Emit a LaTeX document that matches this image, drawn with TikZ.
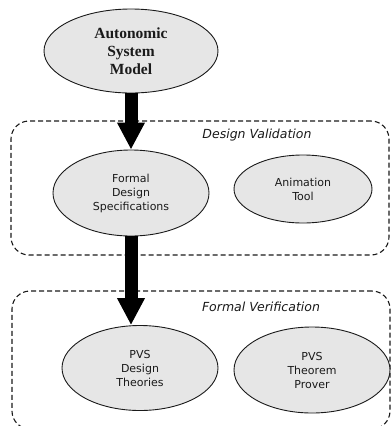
\documentclass[tikz,border=0pt]{standalone}
\usepackage{fontspec}
\setmainfont{Liberation Serif}
\newfontfamily\vsans{DejaVu Sans}
\usetikzlibrary{shapes.geometric,arrows.meta}
\definecolor{ellfill}{HTML}{E6E6E6}
\definecolor{inkc}{HTML}{1A1A1A}
\tikzset{
  ell/.style={ellipse, draw=inkc, line width=0.9pt, fill=ellfill, inner sep=0pt, align=center, text=inkc},
  sanslbl/.style={font=\vsans\fontsize{11}{14}\selectfont},
  seriflbl/.style={font=\bfseries\fontsize{15.5}{18}\selectfont},
  groupbox/.style={draw=inkc, line width=1.1pt, dash pattern=on 5pt off 3pt, rounded corners=18pt, inner sep=0pt},
  grouptitle/.style={font=\vsans\itshape\fontsize{12.5}{14}\selectfont, text=inkc, inner sep=0pt},
  bigarrow/.style={draw=black, line width=13pt, -{Triangle[width=26pt,length=27pt]}, shorten >=0pt}
}
\begin{document}
\begin{tikzpicture}[x=1pt,y=-1pt]
\useasboundingbox (0,0) rectangle (391,426);
\clip (0,0) rectangle (391,426);
% group boxes
\node[groupbox, minimum width=378pt, minimum height=134pt] (dvbox) at (200,188) {};
\node[groupbox, minimum width=378pt, minimum height=138pt] (fvbox) at (201,360) {};
\node[grouptitle] (dvtitle) at (257,135) {Design Validation};
\node[grouptitle] (fvtitle) at (261,307) {Formal Verification};
% ellipses
\node[ell, seriflbl, minimum width=174pt, minimum height=84pt] (asm) at (131,51) {Autonomic\\System\\Model};
\node[ell, sanslbl, minimum width=156pt, minimum height=86pt] (fds) at (131,193) {Formal\\Design\\Specifications};
\node[ell, sanslbl, minimum width=138pt, minimum height=68pt] (anim) at (303,189) {Animation\\Tool};
\node[ell, sanslbl, minimum width=156pt, minimum height=85pt] (pvsd) at (140,368) {PVS\\Design\\Theories};
\node[ell, sanslbl, minimum width=156pt, minimum height=86pt] (pvst) at (312,370) {PVS\\Theorem\\Prover};
% arrows
\draw[bigarrow] (asm.south) -- (fds.north);
\draw[bigarrow] (fds.south) -- (fds.south |- pvsd.north);
\end{tikzpicture}
\end{document}
